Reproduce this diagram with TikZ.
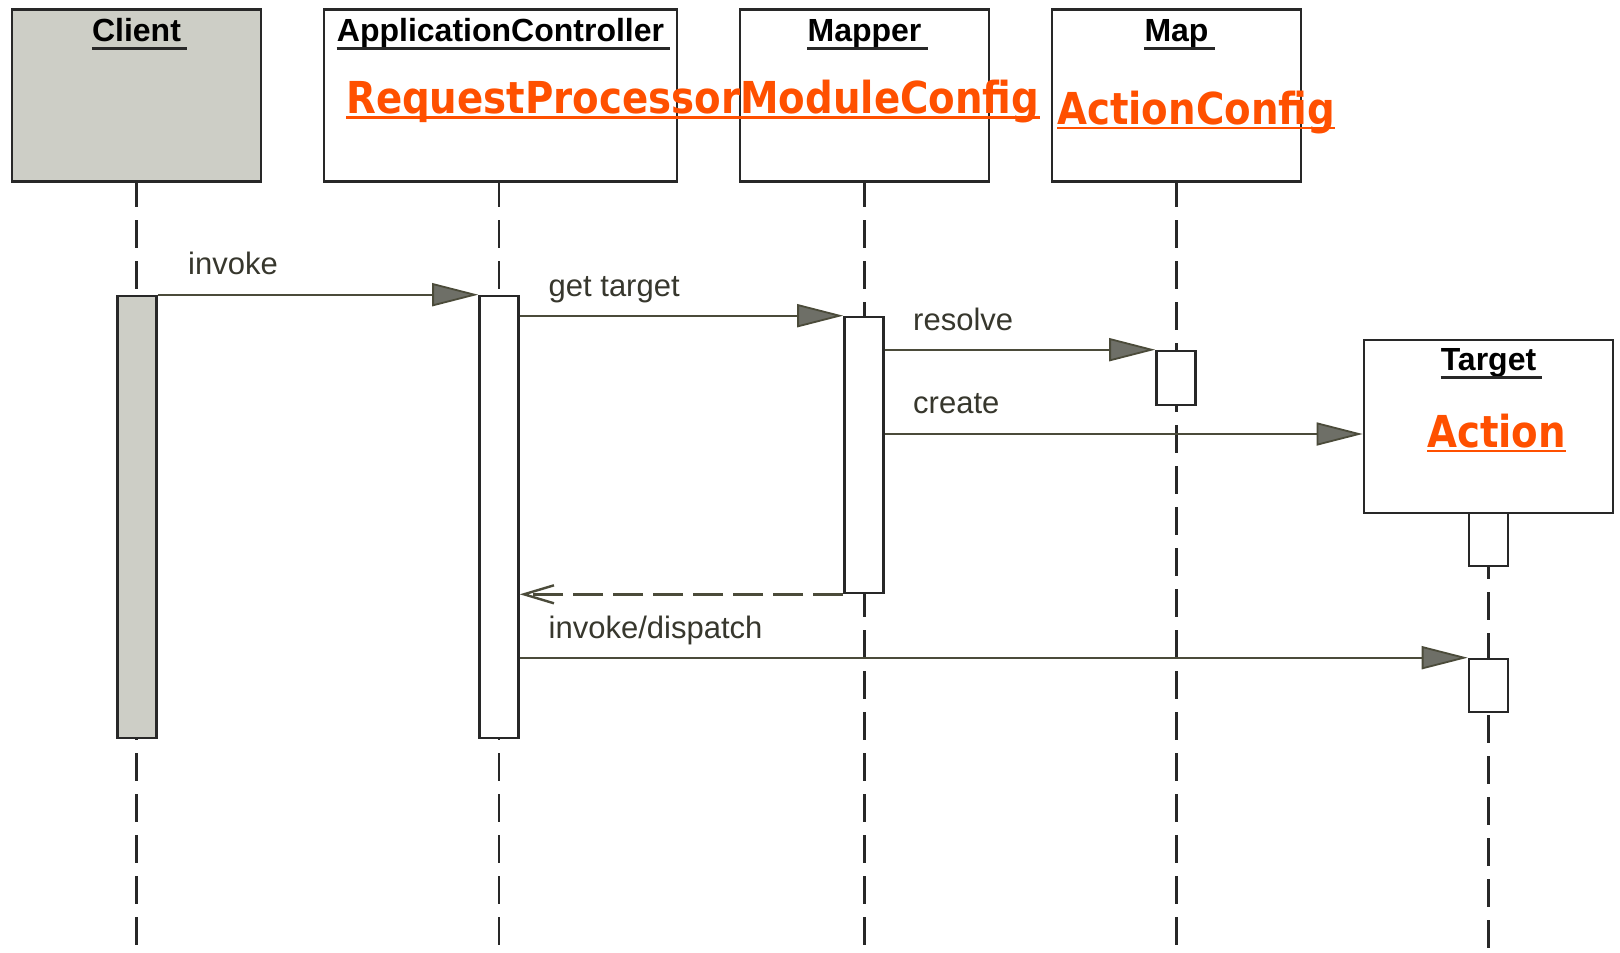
\documentclass[tikz,border=0pt]{standalone}
\usepackage{fontspec}
\setmainfont{Liberation Sans}
\newfontfamily\orfont{DejaVu Sans}
\usetikzlibrary{arrows.meta,calc}
\definecolor{boxline}{RGB}{40,40,40}
\definecolor{clientfill}{RGB}{205,206,198}
\definecolor{msgline}{RGB}{75,75,58}
\definecolor{tipfill}{RGB}{110,111,103}
\definecolor{lblc}{RGB}{55,55,45}
\definecolor{orng}{RGB}{255,80,0}
\newcommand{\ortext}[1]{\scalebox{0.88}[1]{#1}}
\begin{document}
\begin{tikzpicture}[x=1pt,y=-1pt,
  objbox/.style={draw=boxline,line width=2.8pt,fill=white,inner sep=0,minimum width=249pt,minimum height=172pt},
  actbar/.style={draw=boxline,line width=2.6pt,fill=white,inner sep=0,minimum width=39pt},
  lifeline/.style={draw=boxline,line width=2.8pt,dash pattern=on 28pt off 13pt,dash phase=4pt},
  msg/.style={draw=msgline,line width=2.2pt,-{Triangle[length=46pt,width=23pt,fill=tipfill,line width=1.8pt]}},
  retmsg/.style={draw=msgline,line width=2.4pt,dash pattern=on 30pt off 10pt,-{Straight Barb[length=30pt,width=18pt]}},
  titletext/.style={font=\bfseries\fontsize{32}{36}\selectfont,text=black,anchor=base,inner sep=0},
  tline/.style={draw=boxline,line width=2.8pt},
  lbl/.style={font=\fontsize{31}{36}\selectfont,text=lblc,anchor=base west,inner sep=0},
  orl/.style={font=\orfont\bfseries\fontsize{44}{50}\selectfont,text=orng,anchor=base west,inner sep=0},
  oline/.style={draw=orng,line width=2.4pt}
]
\useasboundingbox[fill=white] (0,0) rectangle (1620,953);
\coordinate (bottom) at (0,953);

% object boxes
\node[objbox,fill=clientfill] (client) at (136.5,95.75) {};
\node[objbox,minimum width=353pt] (app) at (500.5,95.75) {};
\node[objbox] (mapper) at (864.5,95.75) {};
\node[objbox] (map) at (1176.5,95.75) {};
\node[objbox,minimum height=173pt] (target) at (1488.5,426.5) {};

% lifelines
\draw[lifeline] (client.south) -- (client.south |- bottom);
\draw[lifeline] (app.south) ++(-1.5,0) coordinate (appll) -- (appll |- bottom);
\draw[lifeline] (mapper.south) -- (mapper.south |- bottom);
\draw[lifeline] (map.south) -- (map.south |- bottom);
\draw[lifeline] (target.south) -- (target.south |- bottom);

% activation bars
\node[actbar,fill=clientfill,minimum height=442pt] (cbar) at (137,517) {};
\node[actbar,minimum height=442pt] (abar) at (499,517) {};
\node[actbar,minimum height=276pt] (mbar) at (864,455) {};
\node[actbar,minimum height=54pt] (mapbar) at (1176,378) {};
\node[actbar,minimum height=53pt] (tbar1) at (1488.5,539.5) {};
\node[actbar,minimum height=53pt] (tbar2) at (1488.5,685.5) {};

% titles
\node[titletext] (clientt) at ([yshift=-33.5pt]client.north) {Client};
\node[titletext] (appt) at ([yshift=-33.5pt]app.north) {ApplicationController};
\node[titletext] (mappert) at ([yshift=-33.5pt]mapper.north) {Mapper};
\node[titletext] (mapt) at ([yshift=-33.5pt]map.north) {Map};
\node[titletext] (targett) at ([yshift=-32pt]target.north) {Target};
\foreach \t in {clientt,appt,mappert,mapt,targett}{
  \draw[tline] ([yshift=-6.5pt]\t.base west) -- ([yshift=-6.5pt,xshift=6pt]\t.base east);
}

% orange labels
\node[orl] (rp) at (346,113.5) {\ortext{RequestProcessorModuleConfig}};
\node[orl] (ac) at (1057,124) {\ortext{ActionConfig}};
\node[orl] (act) at (1427,447) {\ortext{Action}};
\foreach \t in {rp,ac,act}{
  \draw[oline] ([yshift=-4pt]\t.base west) -- ([yshift=-4pt]\t.base east);
}

% messages
\coordinate (createy) at (0,434);
\draw[msg] (cbar.north east) -- (abar.north west);
\draw[msg] (abar.east |- mbar.north) -- (mbar.north west);
\draw[msg] (mbar.east |- mapbar.north) -- (mapbar.north west);
\draw[msg] (mbar.east |- createy) -- (target.west |- createy);
\draw[retmsg] (mbar.south west) -- (abar.east |- mbar.south);
\draw[msg] (abar.east |- tbar2.north) -- (tbar2.north west);

% message labels
\node[lbl] (l1) at (188,274) {invoke};
\node[lbl] (l2) at (548.5,296) {get target};
\node[lbl] (l3) at (913,330) {resolve};
\node[lbl] (l4) at (913,413) {create};
\node[lbl] (l5) at (548.5,638.5) {invoke/dispatch};
\end{tikzpicture}
\end{document}
